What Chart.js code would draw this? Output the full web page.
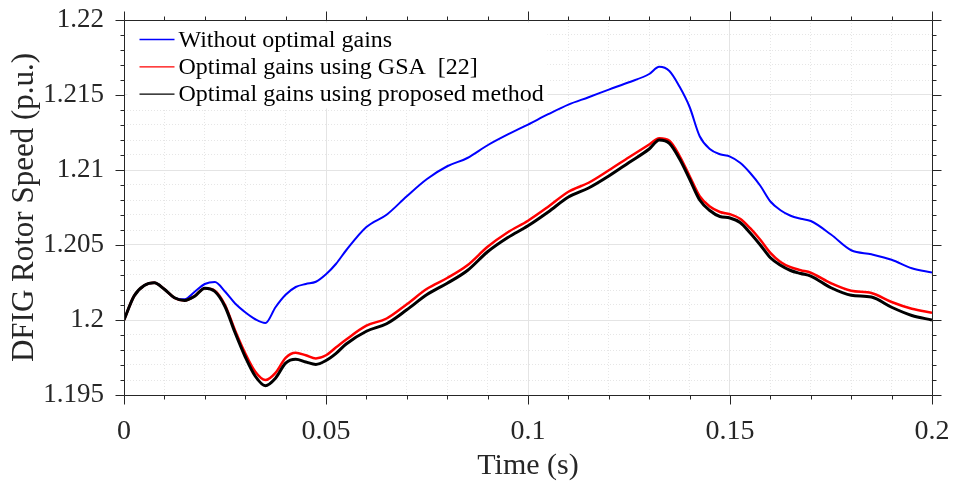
<!DOCTYPE html>
<html>
<head>
<meta charset="utf-8">
<script src="https://cdn.jsdelivr.net/npm/chart.js@4.4.1/dist/chart.umd.min.js"></script>
<style>
    html, body { margin: 0; padding: 0; background: #fff; }
</style>
</head>
<body>
<canvas id="myChart" width="954" height="483"></canvas>
<script>
const time = [
    0, 0.0025, 0.005, 0.0075, 0.01, 0.0125, 0.015, 0.0175, 0.02, 0.0225,
    0.025, 0.0275, 0.03, 0.0325, 0.035, 0.0375, 0.04, 0.0425, 0.045, 0.0475,
    0.05, 0.0525, 0.055, 0.06, 0.065, 0.07, 0.075, 0.08, 0.085, 0.09,
    0.095, 0.1, 0.105, 0.11, 0.115, 0.12, 0.125, 0.13, 0.1325, 0.135,
    0.1375, 0.14, 0.1425, 0.145, 0.1475, 0.15, 0.1525, 0.155, 0.1575, 0.16,
    0.1625, 0.165, 0.1675, 0.17, 0.175, 0.18, 0.185, 0.19, 0.195, 0.2
];

const withoutGains = [
    1.2, 1.2016, 1.2023, 1.20248, 1.20205, 1.20148, 1.20138, 1.20188, 1.2024, 1.20254,
    1.2019, 1.2011, 1.20052, 1.20005, 1.1998, 1.20085, 1.20168, 1.2022, 1.2024, 1.20255,
    1.20305, 1.20375, 1.20465, 1.2062, 1.20702, 1.20825, 1.2094, 1.21025, 1.2108, 1.21165,
    1.21237, 1.21303, 1.21372, 1.21436, 1.21485, 1.21536, 1.21585, 1.2164, 1.21688, 1.2166,
    1.21556, 1.2142, 1.21225, 1.2114, 1.21105, 1.21089, 1.21048, 1.2098, 1.20895, 1.2079,
    1.20732, 1.20695, 1.20675, 1.2066, 1.2057, 1.20465, 1.20438, 1.20402, 1.20345, 1.20316
];

const gsaGains = [
    1.2, 1.2016, 1.2023, 1.20248, 1.20205, 1.20148, 1.2013, 1.2016, 1.20212, 1.20195,
    1.201, 1.1993, 1.19778, 1.19655, 1.196, 1.19648, 1.19748, 1.19782, 1.19765, 1.19744,
    1.19765, 1.19818, 1.1987, 1.19962, 1.2001, 1.20105, 1.20208, 1.2028, 1.20365, 1.20488,
    1.20585, 1.20662, 1.20755, 1.20855, 1.20915, 1.20998, 1.21085, 1.2117, 1.21212, 1.21195,
    1.21095, 1.2096, 1.20825, 1.20756, 1.2072, 1.20705, 1.20675, 1.20612, 1.20535, 1.20448,
    1.20387, 1.20352, 1.20332, 1.20315, 1.20245, 1.20195, 1.2018, 1.2012, 1.20075, 1.20049
];

const proposedGains = [
    1.2, 1.2016, 1.2023, 1.20248, 1.20205, 1.20148, 1.2013, 1.20158, 1.20212, 1.2019,
    1.2009, 1.19915, 1.19755, 1.19625, 1.19562, 1.19612, 1.19712, 1.19738, 1.1972, 1.19704,
    1.1973, 1.19778, 1.1984, 1.19925, 1.19975, 1.20068, 1.2017, 1.20245, 1.2033, 1.20455,
    1.2055, 1.20628, 1.2072, 1.2082, 1.2088, 1.2096, 1.2105, 1.2114, 1.212, 1.21178,
    1.21075, 1.2094, 1.208, 1.2073, 1.2069, 1.2068, 1.2065, 1.2058, 1.205, 1.20415,
    1.20365, 1.2033, 1.2031, 1.20293, 1.20215, 1.20165, 1.20153, 1.20085, 1.2003, 1.2
];

const seriesLabels = [
    'Without optimal gains',
    'Optimal gains using GSA  [22]',
    'Optimal gains using proposed method'
];

const xTickLabels = [0, 0.05, 0.1, 0.15, 0.2];
const yTickLabels = [1.195, 1.2, 1.205, 1.21, 1.215, 1.22];

const serif = "'Liberation Serif', 'Times New Roman', serif";
const axisColor = '#262626';

function majorOf(v, list) {
    return list.find(m => Math.abs(m - v) < 1e-9);
}

function points(values) {
    return time.map((t, i) => ({ x: t, y: values[i] }));
}

// MATLAB style box: outward ticks on all four sides, legend inside the axes
const axesBox = {
    id: 'axesBox',
    afterDatasetsDraw(chart) {
        const { ctx, chartArea: a, scales: { x, y } } = chart;
        const L = Math.round(a.left) + 0.5, R = Math.round(a.right) + 0.5;
        const T = Math.round(a.top) + 0.5, B = Math.round(a.bottom) + 0.5;
        ctx.save();

        // legend
        ctx.fillStyle = '#fff';
        ctx.fillRect(L + 3, T + 2, 420, 86);
        ctx.font = '24px ' + serif;
        ctx.textBaseline = 'middle';
        ctx.textAlign = 'left';
        chart.data.datasets.forEach((ds, i) => {
            const ly = T + 19 + i * 27.3;
            ctx.strokeStyle = ds.borderColor;
            ctx.lineWidth = 1.3;
            ctx.beginPath();
            ctx.moveTo(L + 15, ly);
            ctx.lineTo(L + 50, ly);
            ctx.stroke();
            ctx.fillStyle = '#000';
            ctx.fillText(ds.label, L + 54, ly + 1);
        });

        // frame and ticks
        ctx.strokeStyle = axisColor;
        ctx.lineWidth = 1;
        ctx.beginPath();
        ctx.rect(L, T, R - L, B - T);
        x.ticks.forEach(t => {
            const px = Math.round(x.getPixelForValue(t.value)) + 0.5;
            const len = majorOf(t.value, xTickLabels) !== undefined ? 9 : 4;
            ctx.moveTo(px, B); ctx.lineTo(px, B + len);
            ctx.moveTo(px, T); ctx.lineTo(px, T - len);
        });
        y.ticks.forEach(t => {
            const py = Math.round(y.getPixelForValue(t.value)) + 0.5;
            const len = majorOf(t.value, yTickLabels) !== undefined ? 9 : 4;
            ctx.moveTo(L, py); ctx.lineTo(L - len, py);
            ctx.moveTo(R, py); ctx.lineTo(R + len, py);
        });
        ctx.stroke();
        ctx.restore();
    }
};

const data = {
    datasets: [
        {
            label: seriesLabels[0],
            data: points(withoutGains),
            borderColor: '#0000ff',
            borderWidth: 2,
            order: 2
        },
        {
            label: seriesLabels[1],
            data: points(gsaGains),
            borderColor: '#ff0000',
            borderWidth: 2.5,
            order: 1
        },
        {
            label: seriesLabels[2],
            data: points(proposedGains),
            borderColor: '#000000',
            borderWidth: 3,
            order: 0
        }
    ]
};

const gridColor = (list) => (c) => majorOf(c.tick.value, list) !== undefined ? '#e4e4e4' : '#e6e6e6';
const gridDash = (list) => (c) => (c.tick && majorOf(c.tick.value, list) !== undefined) ? [] : [1, 2];

const config = {
    type: 'line',
    data: data,
    options: {
        responsive: false,
        animation: false,
        devicePixelRatio: 1,
        layout: { padding: { top: 20, right: 22, left: 0, bottom: 0 } },
        elements: {
            point: { radius: 0 },
            line: { cubicInterpolationMode: 'monotone', fill: false }
        },
        scales: {
            x: {
                type: 'linear',
                min: 0,
                max: 0.2,
                afterFit: (s) => {
                    s.height = 88;
                    s.paddingLeft = 0;
                    s.paddingRight = 0;
                },
                grid: { color: gridColor(xTickLabels), lineWidth: 1, drawTicks: false },
                border: { display: false, dash: gridDash(xTickLabels) },
                ticks: {
                    stepSize: 0.01,
                    autoSkip: false,
                    maxRotation: 0,
                    padding: 20,
                    color: axisColor,
                    font: { family: serif, size: 28 },
                    callback: (v) => {
                        const m = majorOf(v, xTickLabels);
                        return m === undefined ? '' : String(m);
                    }
                },
                title: {
                    display: true,
                    text: 'Time (s)',
                    color: axisColor,
                    font: { family: serif, size: 30, lineHeight: 1 },
                    padding: { top: 0, bottom: 2 }
                }
            },
            y: {
                min: 1.195,
                max: 1.22,
                afterFit: (s) => {
                    s.width = 124;
                    s.paddingTop = 0;
                    s.paddingBottom = 0;
                },
                grid: { color: gridColor(yTickLabels), lineWidth: 1, drawTicks: false },
                border: { display: false, dash: gridDash(yTickLabels) },
                ticks: {
                    stepSize: 0.001,
                    autoSkip: false,
                    padding: 20,
                    color: axisColor,
                    font: { family: serif, size: 27 },
                    callback: (v) => {
                        const m = majorOf(v, yTickLabels);
                        return m === undefined ? '' : String(m);
                    }
                },
                title: {
                    display: true,
                    text: 'DFIG Rotor Speed (p.u.)',
                    color: axisColor,
                    font: { family: serif, size: 31, lineHeight: 1 },
                    padding: { top: 9, bottom: 0 }
                }
            }
        },
        plugins: {
            legend: { display: false },
            tooltip: { enabled: false }
        }
    },
    plugins: [axesBox]
};

const myChart = new Chart(
    document.getElementById('myChart'),
    config
);
</script>
</body>
</html>
